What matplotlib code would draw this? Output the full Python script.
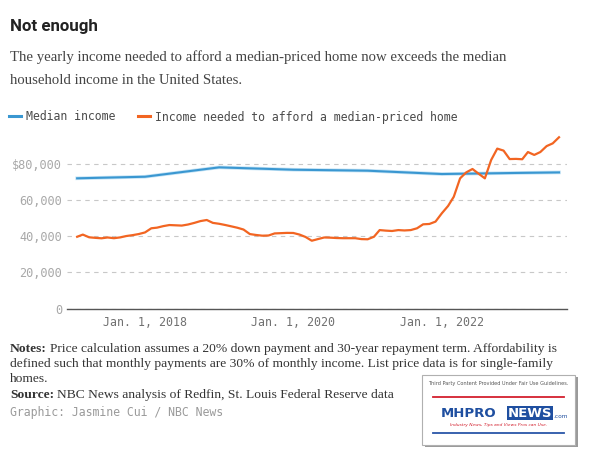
import pandas as pd
import matplotlib
matplotlib.use("Agg")
import matplotlib.pyplot as plt
import matplotlib.dates as mdates
from matplotlib import font_manager as fm
from matplotlib.patches import Rectangle

# --- data ---
months = pd.date_range("2017-02-01", periods=79, freq="MS")
income_needed = [
    39800, 41000, 39500, 39200, 38950, 39400, 39000, 39450, 40200, 40700,
    41300, 42200, 44500, 44850, 45700, 46300, 46150, 46000, 46600, 47500,
    48500, 49100, 47500, 47000, 46300, 45600, 44800, 43800, 41300, 40800,
    40400, 40500, 41650, 41800, 41950, 41900, 41000, 39700, 37600, 38500,
    39400, 39300, 39100, 39000, 39000, 39000, 38500, 38400, 39800, 43500,
    43200, 43000, 43500, 43300, 43500, 44500, 46700, 46900, 48200, 52800,
    56900, 62000, 72200, 75500, 77400, 74800, 72200, 82400, 88700, 87600,
    82900, 83000, 82800, 86800, 85200, 86800, 90100, 91600, 95000,
]
income_dates = pd.to_datetime(["2017-02-01", "2018-01-01", "2019-01-01", "2020-01-01",
                               "2021-01-01", "2022-01-01", "2023-01-01", "2023-08-01"])
median_income = [72230, 73100, 78300, 77000, 76450, 74600, 75200, 75500]

ytick_vals = [0, 20000, 40000, 60000, 80000]
ytick_labels = ["0", "20,000", "40,000", "60,000", "$80,000"]
xtick_dates = pd.to_datetime(["2018-01-01", "2020-01-01", "2022-01-01"])
xtick_labels = ["Jan. 1, 2018", "Jan. 1, 2020", "Jan. 1, 2022"]

BLUE = "#3a97d1"
HALO = "#b5dcf3"
ORANGE = "#f26522"

names = {f.name for f in fm.fontManager.ttflist}
TITLE_FONT = "Liberation Sans Narrow" if "Liberation Sans Narrow" in names else "Roboto"
SERIF = "Liberation Serif"
MONO = "DejaVu Sans Mono"

W, H = 590, 450


def fx(x):
    return x / W


def fy(y):
    return 1 - y / H


fig = plt.figure(figsize=(5.9, 4.5), dpi=100)
ax = fig.add_axes([fx(67), fy(308.5), 500 / W, 180.25 / H])

ax.plot(income_dates, median_income, color=HALO, lw=2.6, alpha=0.8, zorder=2)
l1, = ax.plot(income_dates, median_income, color=BLUE, lw=1.5, zorder=3)
l2, = ax.plot(months, income_needed, color=ORANGE, lw=1.6, zorder=4)

ax.set_ylim(0, 100000)
x18 = mdates.date2num(pd.Timestamp("2018-01-01"))
ax.set_xlim(x18 - 78 / 74.2 * 365.25, x18 + 422 / 74.2 * 365.25)

ax.set_yticks(ytick_vals)
ax.set_yticklabels(ytick_labels, fontfamily=MONO, fontsize=8.6, color="#a8a8a8")
ax.set_xticks(xtick_dates)
ax.set_xticklabels(xtick_labels, fontfamily=MONO, fontsize=8.4, color="#707070")
ax.tick_params(axis="y", length=0, pad=3.6)
ax.tick_params(axis="x", length=0, pad=5.5)

for s in ["top", "right", "left"]:
    ax.spines[s].set_visible(False)
ax.spines["bottom"].set_color("#555555")
ax.spines["bottom"].set_linewidth(1.0)
ax.yaxis.grid(True, color="#c8c8c8", linestyle=(0, (4, 4)), linewidth=0.8)
ax.set_axisbelow(True)

# legend
fig.legend([l1, l2], ["Median income", "Income needed to afford a median-priced home"],
           loc="center left", bbox_to_anchor=(fx(9), fy(117)), ncol=2, frameon=False,
           borderaxespad=0, borderpad=0, handlelength=1.0, handletextpad=0.45,
           columnspacing=2.0, prop={"family": MONO, "size": 8.3}, labelcolor="#4a4a4a")
for h in fig.legends[0].legend_handles:
    h.set_linewidth(2.2)

# title block
fig.text(fx(10), fy(31.5), "Not enough", fontfamily=TITLE_FONT, fontweight="bold",
         fontsize=12.2, color="#222222", va="baseline")
fig.text(fx(10), fy(61), "The yearly income needed to afford a median-priced home now exceeds the median",
         fontfamily=SERIF, fontsize=10.65, color="#444444", va="baseline")
fig.text(fx(10), fy(84), "household income in the United States.",
         fontfamily=SERIF, fontsize=10.65, color="#444444", va="baseline")

# notes
renderer = fig.canvas.get_renderer()
NOTE_SIZE = 9.7


def label_line(y, bold, rest):
    x0 = fx(10)
    if bold:
        t = fig.text(x0, fy(y), bold, fontfamily=SERIF, fontweight="bold", fontsize=NOTE_SIZE,
                     color="#333333", va="baseline")
        bb = t.get_window_extent(renderer)
        x0 = x0 + bb.width / W + 3 / W
    fig.text(x0, fy(y), rest, fontfamily=SERIF, fontsize=NOTE_SIZE, color="#333333", va="baseline")


label_line(351.7, "Notes:", "Price calculation assumes a 20% down payment and 30-year repayment term. Affordability is")
label_line(366.7, None, "defined such that monthly payments are 30% of monthly income. List price data is for single-family")
label_line(381.7, None, "homes.")
label_line(398.3, "Source:", "NBC News analysis of Redfin, St. Louis Federal Reserve data")
fig.text(fx(10), fy(416), "Graphic: Jasmine Cui / NBC News", fontfamily=MONO, fontsize=8.3,
         color="#9a9a9a", va="baseline")

# third party watermark
wm = fig.add_axes([fx(422), fy(447), 156 / W, 72 / H])
wm.set_xlim(0, 1)
wm.set_ylim(0, 1)
wm.axis("off")
wm.add_patch(Rectangle((0.02, 0.0), 0.98, 0.97, facecolor="#9a9a9a", edgecolor="none", clip_on=False))
wm.add_patch(Rectangle((0.0, 0.03), 0.98, 0.97, facecolor="white", edgecolor="#b0b0b0", lw=0.8, clip_on=False))
wm.text(0.49, 0.88, "Third Party Content Provided Under Fair Use Guidelines.", fontsize=3.6,
        color="#555555", ha="center", va="center", fontfamily="DejaVu Sans")
wm.plot([0.07, 0.91], [0.70, 0.70], color="#d3202e", lw=1.3)
wm.text(0.12, 0.47, "MHPRO", fontsize=9.5, fontweight="bold", color="#1f4fa0",
        ha="left", va="center", fontfamily="DejaVu Sans")
wm.text(0.55, 0.47, "NEWS", fontsize=9.5, fontweight="bold", color="white",
        ha="left", va="center", fontfamily="DejaVu Sans",
        bbox=dict(boxstyle="square,pad=0.05", facecolor="#1f4fa0", edgecolor="none"))
wm.text(0.84, 0.42, ".com", fontsize=4.2, color="#1f4fa0", ha="left", va="center")
wm.text(0.49, 0.30, "Industry News, Tips and Views Pros can Use.", fontsize=3.2, style="italic",
        color="#d3202e", ha="center", va="center")
wm.plot([0.07, 0.91], [0.20, 0.20], color="#2a56a8", lw=1.3)

fig.savefig("out.png", dpi=100)
